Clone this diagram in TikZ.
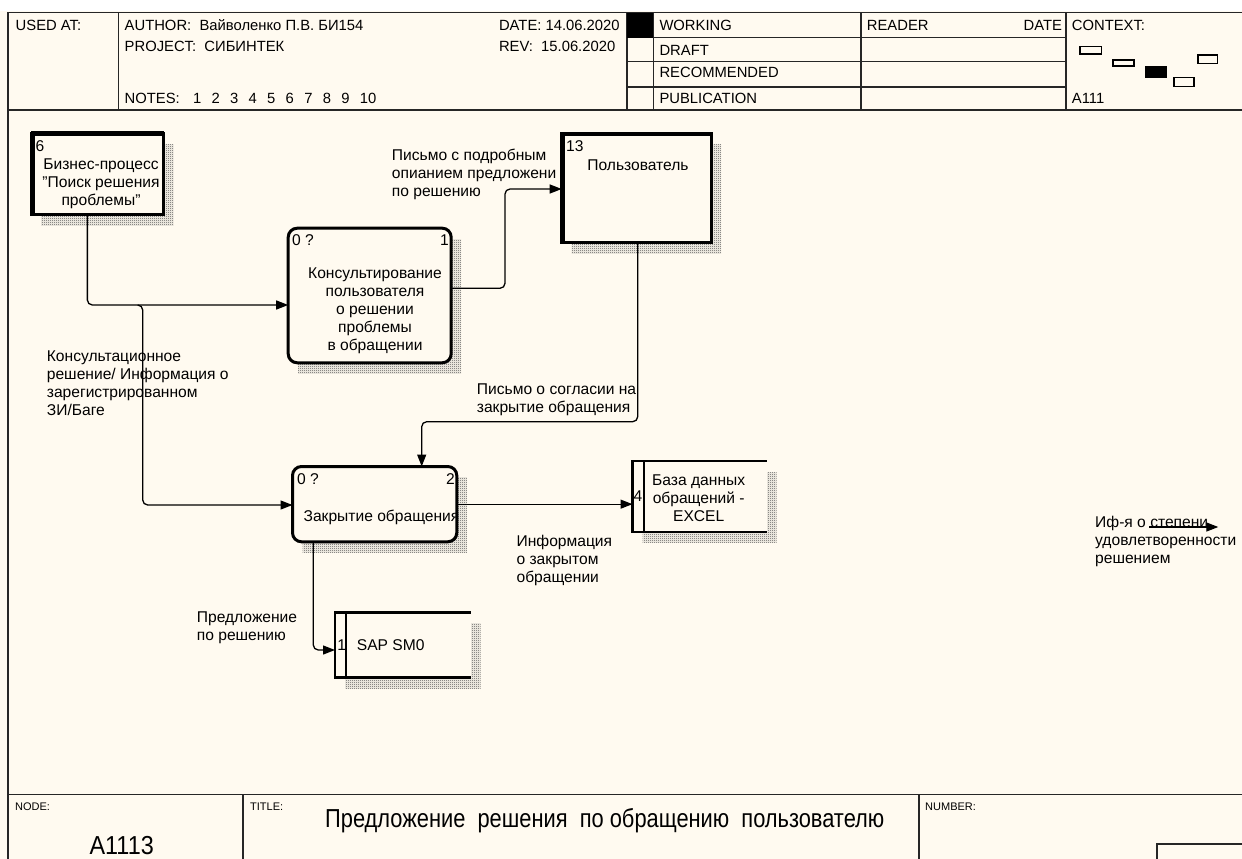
\documentclass[tikz,border=0pt]{standalone}
\usepackage{fontspec}
\setmainfont{Liberation Sans}
\newfontfamily\narrowsans[FakeStretch=0.9]{Liberation Sans}
\newfontfamily\titlesans[FakeStretch=0.84]{Liberation Sans}
\usepackage{tikz}
\usetikzlibrary{arrows.meta,patterns,backgrounds,positioning}
\definecolor{paper}{RGB}{255,250,240}
\pgfdeclarepatternformonly{idefdots}{\pgfqpoint{0pt}{0pt}}{\pgfqpoint{2pt}{2pt}}{\pgfqpoint{2pt}{2pt}}{%
  \pgfpathrectangle{\pgfqpoint{0pt}{0pt}}{\pgfqpoint{1pt}{1pt}}%
  \pgfpathrectangle{\pgfqpoint{1pt}{1pt}}{\pgfqpoint{1pt}{1pt}}%
  \pgfusepath{fill}}
\tikzset{
  sheetline/.style={line width=1.6pt,draw=black!85},
  lbl/.style={inner sep=0pt,anchor=base west},
  hdr/.style={lbl,font=\fontsize{14.8}{18}\selectfont},
  txt/.style={inner sep=0pt,anchor=north west,align=left},
  ctxt/.style={inner sep=0pt,anchor=north,align=center},
  smalllbl/.style={lbl,font=\fontsize{11}{13}\selectfont},
  extbox/.style={draw,line width=3pt,fill=paper,inner sep=0pt,outer sep=0pt},
  actbox/.style={extbox,rounded corners=9pt},
  storebox/.style={fill=paper,inner sep=0pt,outer sep=0pt},
  storeline/.style={line width=2.2pt},
  flow/.style={line width=1.3pt,rounded corners=5pt,-{Triangle[length=12pt,width=9pt]}},
  hatch/.style={pattern=idefdots,pattern color=black!70},
  ctxbox/.style={draw,line width=1.2pt,fill=paper},
}
\begin{document}
\begin{tikzpicture}[x=1pt,y=-1pt,every node/.style={font=\fontsize{15.6}{18}\selectfont}]
\useasboundingbox (0,0) rectangle (1242,859);
\clip (0,0) rectangle (1242,859);
\begin{scope}[on background layer]
  \fill[paper] (0,0) rectangle (1242,859);
  \fill[white] (0,0) rectangle (1242,11.5);
\end{scope}

% sheet frame
\draw[sheetline] (8,900) -- (8,12.7) -- (1260,12.7);
\draw[sheetline] (8,110) -- (1260,110);
\foreach \x in {118.4,626.7,653.3,861,1065.7}
  \draw[sheetline] (\x,12.7) -- (\x,110);
\foreach \y in {37.7,61.7,86.7}
  \draw[sheetline] (626.7,\y) -- (1065.7,\y);
\fill (626.7,12.7) rectangle (653.3,37.7);
\draw[sheetline] (8,794.3) -- (1260,794.3);
\draw[sheetline] (243,794.3) -- (243,900);
\draw[sheetline] (919,794.3) -- (919,900);
\draw[sheetline] (1156.7,900) -- (1156.7,844) -- (1260,844);

% header texts
\node[hdr] (usedat) at (15.5,30.2) {USED AT:};
\node[hdr] (author) at (124.5,30.2) {AUTHOR:\ \ Вайволенко П.В. БИ154};
\node[hdr] (project) at (124.5,51.9) {PROJECT:\ \ СИБИНТЕК};
\node[hdr] (notes) at (124.5,103.5) {NOTES:\hspace{3pt}\foreach \k in {1,...,10}{\hspace{10.3pt}\k}};
\node[hdr] (date) at (498.8,30.2) {DATE: 14.06.2020};
\node[hdr] (rev) at (498.8,51.9) {REV:\ \ 15.06.2020};
\node[hdr] (working) at (659.3,30.2) {WORKING};
\node[hdr] (draft) at (659.3,55.2) {DRAFT};
\node[hdr] (recomm) at (659.3,77.9) {RECOMMENDED};
\node[hdr] (public) at (659.3,103.5) {PUBLICATION};
\node[hdr] (reader) at (866.7,30.2) {READER};
\node[hdr,anchor=base east] (rdate) at (1062.3,30.2) {DATE};
\node[hdr] (context) at (1071.7,30.2) {CONTEXT:};
\node[hdr] (ctxnum) at (1071.7,103.5) {A111};
\draw[ctxbox] (1080,46.7) rectangle (1101.7,54);
\draw[ctxbox] (1113,60) rectangle (1134,66);
\draw[ctxbox,fill=black] (1145.7,67) rectangle (1166,77);
\draw[ctxbox] (1174,77.7) rectangle (1194,86.7);
\draw[ctxbox] (1198,55) rectangle (1217.7,63.3);

% footer texts
\node[smalllbl] (nodelbl) at (15,810) {NODE:};
\node[lbl,anchor=base,font=\narrowsans\fontsize{26}{30}\selectfont] (nodenum) at (121.7,854.5) {A1113};
\node[smalllbl] (titlelbl) at (250,810) {TITLE:};
\node[lbl,font=\titlesans\fontsize{26}{30}\selectfont] (title) at (325,827.5) {Предложение\ \ решения\ \ по обращению\ \ пользователю};
\node[smalllbl] (numberlbl) at (925,810) {NUMBER:};

% arrow labels
\node[txt] (l1) at (46.7,350.3) {Консультационное\\решение/ Информация о\\зарегистрированном\\ЗИ/Баге};
\node[txt] (l2) at (391.7,148.9) {Письмо с подробным\\опианием предложени\\по решению};
\node[txt] (l3) at (476.7,383.6) {Письмо о согласии на\\закрытие обращения};
\node[txt] (l4) at (516.4,534.6) {Информация\\о закрытом\\обращении};
\node[txt] (l5) at (196.7,611.9) {Предложение\\по решению};
\node[txt] (l6) at (1095,516.3) {Иф-я о степени\\удовлетворенности\\решением};

% boxes
\node[extbox,minimum width=132.5pt,minimum height=81.5pt] (b6) at (97.25,173.75) {};
\node[extbox,minimum width=149.5pt,minimum height=109.4pt] (b13) at (636.45,188) {};
\node[actbox,minimum width=163pt,minimum height=134.6pt] (b1) at (369.7,295.5) {};
\node[actbox,minimum width=164.3pt,minimum height=75.3pt] (b2) at (374.65,504.15) {};
\node[storebox,minimum width=135.7pt,minimum height=65pt] (sap) at (402.85,645) {};
\node[storebox,minimum width=134.2pt,minimum height=70.7pt] (s4) at (699.6,496.35) {};
\draw[line width=5pt] ([xshift=1pt]b6.north west) -- ([xshift=1pt]b6.south west);
\draw[line width=4.5pt] ([yshift=-0.7pt]b6.north west) -- ([yshift=-0.7pt]b6.north east);
\draw[line width=5pt] ([xshift=1pt]b13.north west) -- ([xshift=1pt]b13.south west);
\draw[line width=4.5pt] ([yshift=-0.7pt]b13.north west) -- ([yshift=-0.7pt]b13.north east);
\foreach \s in {sap,s4}{
  \draw[storeline] (\s.north east) -- (\s.north west) -- (\s.south west) -- (\s.south east);
  \draw[storeline] ([xshift=11.2pt]\s.north west) -- ([xshift=11.2pt]\s.south west);
}
\begin{scope}[on background layer]
  \foreach \s in {b6,b13,b1,b2,sap,s4}
    \fill[hatch] ([shift={(10pt,-11pt)}]\s.north west) rectangle ([shift={(10pt,-11pt)}]\s.south east);
\end{scope}

% box texts
\node[lbl] (n6) at (35.5,151.9) {6};
\node[ctxt] (t6) at (101,158.6) {Бизнес-процесс\\"Поиск решения\\проблемы"};
\node[lbl] (n13) at (566,151.9) {13};
\node[lbl,anchor=base] (t13) at (638,170.2) {Пользователь};
\node[lbl] (n1a) at (292,245.2) {0 ?};
\node[lbl,anchor=base east] (n1b) at (449,245.2) {1};
\node[ctxt] (t1) at (375,267.3) {Консультирование\\пользователя\\о решении\\проблемы\\в обращении};
\node[lbl] (n2a) at (297,484.5) {0 ?};
\node[lbl,anchor=base east] (n2b) at (455,484.5) {2};
\node[lbl,anchor=base] (t2) at (381.5,521.9) {Закрытие обращения};
\node[lbl,anchor=base] (nsap) at (341.7,650.2) {1};
\node[lbl] (tsap) at (356.7,650.2) {SAP SM0};
\node[lbl,anchor=base] (ns4) at (638,501.9) {4};
\node[ctxt] (ts4) at (698.7,474.6) {База данных\\обращений -\\EXCEL};

% connectors
\coordinate (j1) at (137.7,305);
\coordinate (j2) at (142.7,505);
\coordinate (k2) at (505,189);
\coordinate (m1) at (637.7,421.7);
\coordinate (m2) at (421.7,421.7);
\coordinate (p1) at (313.3,650);
\coordinate (o1) at (1149.3,527);
\coordinate (o2) at (1218.3,527);
\draw[flow] ([xshift=-9.9pt]b6.south) |- (b1.west |- j1);
\draw[flow] (j1) -| (j2) -- (b2.west |- j2);
\draw[flow] (b1.east |- 0,288.3) -| (k2) -- (b13.west |- k2);
\draw[flow] (b13.south -| m1) -- (m1) -- (m2) -- (b2.north -| m2);
\draw[flow] (b2.east) -- (s4.west |- b2.east);
\draw[flow] (b2.south -| p1) -- (p1) -- (sap.west |- p1);
\draw[flow] (o1) -- (o2);
\end{tikzpicture}
\end{document}
